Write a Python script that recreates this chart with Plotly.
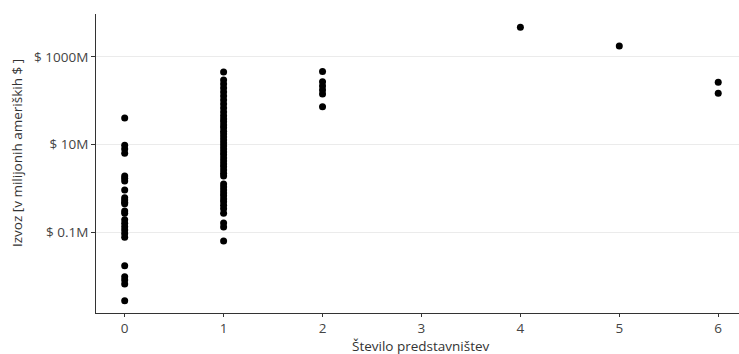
import plotly.graph_objects as go

# Izvoz v milijonih USD po številu predstavništev
x0_vals = [40.4, 9.6, 7.9, 6.3, 1.9, 1.69, 1.47, 0.91, 0.61, 0.54, 0.48, 0.44, 0.30, 0.27,
           0.19, 0.158, 0.132, 0.111, 0.093, 0.076, 0.017, 0.0095, 0.0080, 0.0065, 0.0027]
x1_vals = [454, 298, 242, 195, 158, 128, 104, 84, 68, 55, 45, 38, 33, 28, 24, 20, 17.4, 14.8,
           12.7, 10.8, 9.2, 7.9, 6.7, 5.8, 4.9, 4.2, 3.6, 3.1, 2.6, 2.2, 1.9, 1.25, 1.07, 0.91,
           0.78, 0.67, 0.57, 0.49, 0.41, 0.34, 0.27, 0.16, 0.13, 0.062]
x2_vals = [461, 272, 217, 176, 143, 73]
x4_vals = [4775]
x5_vals = [1782]
x6_vals = [263, 148]

groups = {0: x0_vals, 1: x1_vals, 2: x2_vals, 4: x4_vals, 5: x5_vals, 6: x6_vals}
xs, ys = [], []
for k, vals in groups.items():
    xs += [k] * len(vals)
    ys += vals

y_tickvals = [0.1, 10, 1000]
y_ticktext = ["$ 0.1M", "$ 10M", "$ 1000M"]
x_tickvals = [0, 1, 2, 3, 4, 5, 6]

font_fam = "Open Sans, sans-serif"
L, R, T, B = 96, 0, 14, 41
W, H = 739, 354
pw, ph = W - L - R, H - T - B

fig = go.Figure(go.Scatter(
    x=xs, y=ys, mode="markers",
    marker=dict(color="black", size=7, line=dict(width=0)),
    hoverinfo="skip",
))

fig.update_layout(
    width=W, height=H,
    margin=dict(l=L, r=R, t=T, b=B),
    plot_bgcolor="white", paper_bgcolor="white",
    showlegend=False,
    font=dict(family=font_fam, size=14, color="#444444"),
)

fig.update_xaxes(
    range=[-0.29, 6.21],
    tickvals=x_tickvals,
    ticks="outside", ticklen=3, tickcolor="#333333", tickwidth=1,
    showline=True, linecolor="#333333", linewidth=1,
    showgrid=False, zeroline=False,
    tickfont=dict(size=13.5, color="#444444"),
)

fig.update_yaxes(
    type="log",
    range=[-2.85, 3.98],
    tickvals=y_tickvals, ticktext=y_ticktext,
    ticks="outside", ticklen=4, tickcolor="#333333", tickwidth=1,
    showline=True, linecolor="#333333", linewidth=1,
    showgrid=True, gridcolor="#ebebeb", gridwidth=1,
    zeroline=False,
    tickfont=dict(size=13.5, color="#444444"),
)

fig.add_annotation(
    xref="paper", yref="paper", x=(421 - L) / pw, y=-(345.5 - (H - B)) / ph,
    xanchor="center", yanchor="middle", showarrow=False,
    text="Število predstavništev", font=dict(size=13.5, color="#333333"),
)
fig.add_annotation(
    xref="paper", yref="paper", x=(17 - L) / pw, y=(H - B - 153) / ph,
    xanchor="center", yanchor="middle", showarrow=False, textangle=-90,
    text="Izvoz [v milijonih ameriških $ ]", font=dict(size=13.5, color="#333333"),
)

fig.write_html("out.html")
